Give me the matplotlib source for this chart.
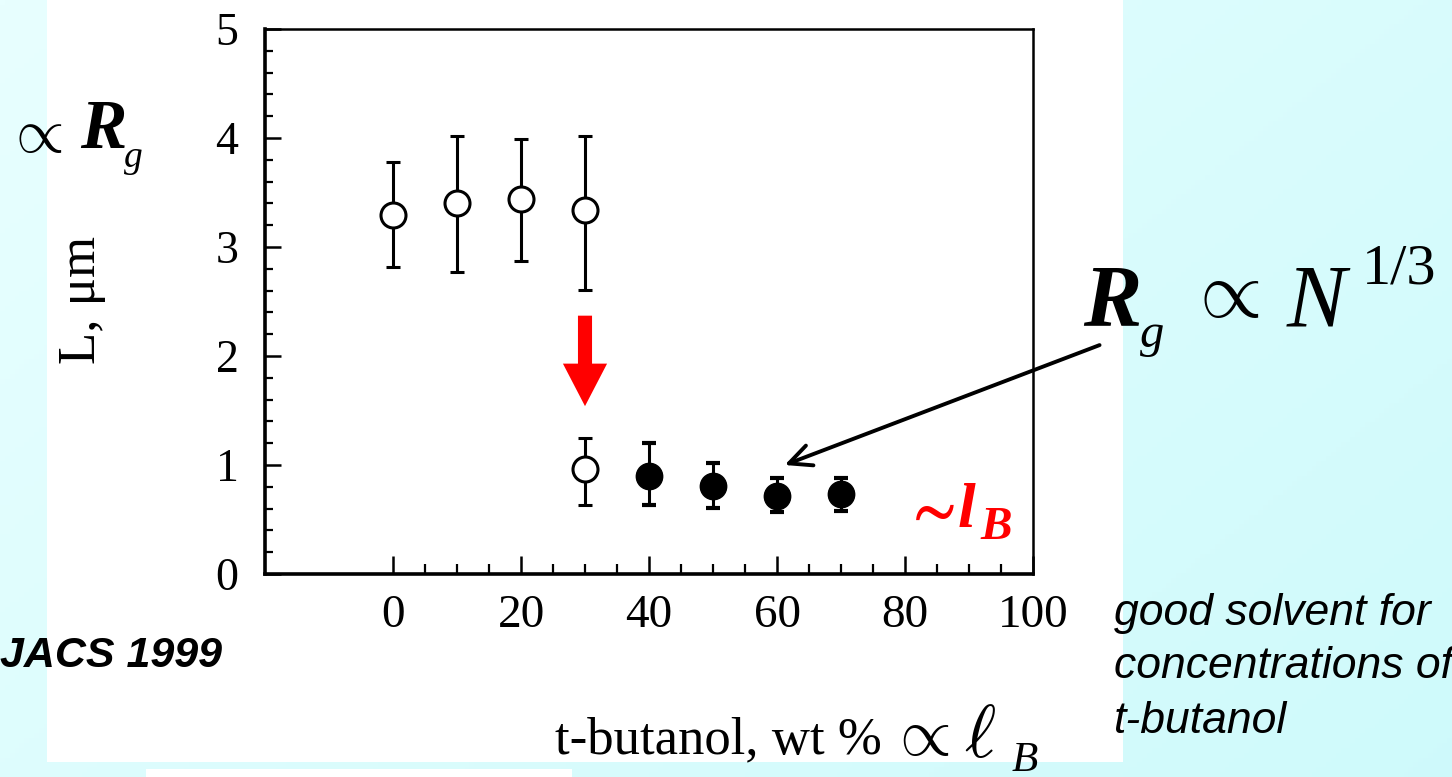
import numpy as np
import matplotlib
matplotlib.use("Agg")
import matplotlib.pyplot as plt
from matplotlib.patches import Rectangle
from matplotlib.ticker import FixedLocator, MultipleLocator

# ---- measured chain length L (µm) vs t-butanol content (wt %) ----
coil_x = [0, 10, 20, 30, 30]
coil_y = [3.29, 3.40, 3.44, 3.34, 0.96]
coil_lo = [2.82, 2.77, 2.87, 2.61, 0.63]
coil_hi = [3.78, 4.02, 3.99, 4.02, 1.25]

globule_x = [40, 50, 60, 70]
globule_y = [0.90, 0.81, 0.72, 0.73]
globule_lo = [0.63, 0.61, 0.57, 0.58]
globule_hi = [1.20, 1.02, 0.88, 0.88]

x_ticks = [0, 20, 40, 60, 80, 100]
y_ticks = [0, 1, 2, 3, 4, 5]

# collapse marker: red arrow at 30 wt % from the coil to the globule branch
collapse_x = 30
collapse_from, collapse_to = 2.37, 1.54

W_PX, H_PX = 1452, 777
fig = plt.figure(figsize=(W_PX / 100, H_PX / 100), dpi=100)

SERIF = ["Liberation Serif", "DejaVu Serif"]
MATH = ["STIXGeneral", "DejaVu Serif"]
SANS = ["Liberation Sans", "DejaVu Sans"]


def fx(x):
    return x / W_PX


def fy(y):
    return 1 - y / H_PX


def put(x, y, s, **kw):
    kw.setdefault("va", "baseline")
    kw.setdefault("ha", "left")
    kw.setdefault("family", SERIF)
    return fig.text(fx(x), fy(y), s, **kw)


def put_math(x, y, s, **kw):
    kw.setdefault("math_fontfamily", "cm")
    return put(x, y, s, **kw)


# slide background: pale cyan gradient
bg = fig.add_axes([0, 0, 1, 1], zorder=0)
gx, gy = np.meshgrid(np.linspace(0, 1, 300), np.linspace(0, 1, 160))
t = (0.6 * gx + 0.4 * gy)
c0 = np.array([0.91, 1.0, 1.0])
c1 = np.array([0.81, 0.98, 0.985])
img = c0[None, None, :] * (1 - t[..., None]) + c1[None, None, :] * t[..., None]
bg.imshow(img, extent=[0, 1, 0, 1], aspect="auto", origin="upper")
bg.set_xlim(0, 1)
bg.set_ylim(0, 1)
bg.axis("off")

# white figure panels
bg.add_patch(Rectangle((fx(47), fy(762)), fx(1123) - fx(47), 1 - fy(762),
                       facecolor="white", edgecolor="none"))
bg.add_patch(Rectangle((fx(146), 0), fx(572) - fx(146), fy(769),
                       facecolor="white", edgecolor="none"))

# ---- data axes ----
ax = fig.add_axes([fx(265), fy(574), fx(1033) - fx(265), fy(29) - fy(574)], zorder=2)
ax.set_facecolor("none")
ax.set_xlim(-20, 100)
ax.set_ylim(0, 5)

for side in ["left", "bottom"]:
    ax.spines[side].set_linewidth(2.6)
for side in ["top", "right"]:
    ax.spines[side].set_linewidth(1.8)

ax.xaxis.set_major_locator(FixedLocator(x_ticks))
ax.xaxis.set_minor_locator(FixedLocator(np.arange(0, 101, 5)))
ax.yaxis.set_major_locator(FixedLocator(y_ticks))
ax.yaxis.set_minor_locator(MultipleLocator(0.2))
ax.tick_params(axis="x", which="major", direction="in", length=13, width=1.8,
               pad=15, labelsize=34, top=False)
ax.tick_params(axis="x", which="minor", direction="in", length=7, width=1.6, top=False)
ax.tick_params(axis="y", which="major", direction="in", length=11.5, width=1.8,
               pad=19, labelsize=33, right=False)
ax.tick_params(axis="y", which="minor", direction="in", length=6, width=1.6, right=False)
for lab in ax.get_xticklabels() + ax.get_yticklabels():
    lab.set_family(SERIF)

err_kw = dict(ecolor="black", elinewidth=2.2, capsize=4.7, capthick=3.0,
              linestyle="none", zorder=3)
coil_err = [np.subtract(coil_y, coil_lo), np.subtract(coil_hi, coil_y)]
ax.errorbar(coil_x, coil_y, yerr=coil_err, marker="o", markersize=18,
            markerfacecolor="white", markeredgecolor="black", markeredgewidth=2.2,
            **err_kw)
glob_err = [np.subtract(globule_y, globule_lo), np.subtract(globule_hi, globule_y)]
ax.errorbar(globule_x, globule_y, yerr=glob_err, marker="o", markersize=19,
            markerfacecolor="black", markeredgecolor="black", **err_kw)

# red arrow marking the coil-globule collapse
ax.arrow(collapse_x, collapse_from, 0, collapse_to - collapse_from,
         width=2.2, head_width=6.9, head_length=0.39, length_includes_head=True,
         color="red", linewidth=0, zorder=4)

# black pointer from the scaling law to the globule at 60 wt %
ax.annotate("", xy=(globule_x[2] + 1.2, globule_hi[2] + 0.12),
            xytext=(110.4, 2.10), xycoords="data", textcoords="data",
            annotation_clip=False,
            arrowprops=dict(arrowstyle="->,head_length=0.8,head_width=0.38",
                            mutation_scale=20, lw=2.8, color="black",
                            shrinkA=0, shrinkB=0), zorder=5)

# ---- axis titles ----
put(82, 300, "L, μm", size=38, rotation=90, ha="center", va="center")
put(555, 753, "t-butanol, wt %", size=38)
put_math(888, 755, r"$\propto$", size=48)
put_math(964, 757, r"$\ell$", size=54)
put(1012, 771, "B", size=31, style="italic")

# ---- scaling annotations ----
put_math(5, 152, r"$\propto$", size=45)
put(80, 148, "R", size=50, weight="bold", style="italic")
put(124, 167, "g", size=27, style="italic")

put(1083, 325, "R", size=63, weight="bold", style="italic")
put(1140, 347, "g", size=35, style="italic")
put_math(1185, 317, r"$\propto$", size=58)
put(1287, 325, "N", size=64, style="italic")
put(1362, 283, "1/3", size=42)

put(912, 528, "∼", size=44, weight="bold", color="red", family=MATH)
put(958, 527, "l", size=46, weight="bold", style="italic", color="red")
put(980, 539, "B", size=34, weight="bold", style="italic", color="red")

put(0, 667, "JACS 1999", size=31, weight="bold", style="italic", family=SANS)
put(1114, 625, "good solvent for", size=32, style="italic", family=SANS)
put(1114, 678, "concentrations of", size=32, style="italic", family=SANS)
put(1114, 733, "t-butanol", size=32, style="italic", family=SANS)

fig.savefig("out.png", dpi=100)
